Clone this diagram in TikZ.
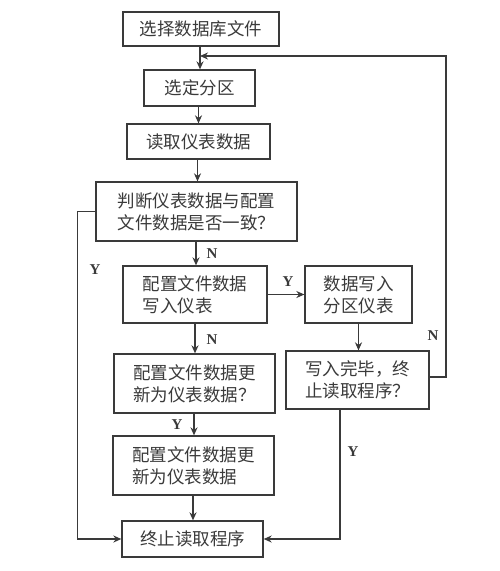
\documentclass[tikz,border=0pt]{standalone}
\usepackage{fontspec}
\newfontfamily\cjk{Noto Sans CJK SC}
\newfontfamily\latf{Liberation Serif}
\usetikzlibrary{arrows.meta}
\definecolor{ink}{HTML}{3A3A3A}
\begin{document}
\begin{tikzpicture}[x=1pt,y=-1pt,
  box/.style={draw=ink,line width=1.3pt,inner sep=0pt,align=left,text=ink,
     font=\cjk\fontsize{17.5}{22}\selectfont},
  arr/.style={draw=ink,line width=1.3pt,-{Stealth[length=8pt,width=7pt]}},
  lbl/.style={text=ink,font=\latf\bfseries\fontsize{15}{15}\selectfont,inner sep=0pt}]
\useasboundingbox (0,0) rectangle (500,571);
\node[box,minimum width=156pt,minimum height=34pt] (b1) at (201,29) {选择数据库文件};
\node[box,minimum width=111pt,minimum height=36pt] (b2) at (199.5,88) {选定分区};
\node[box,minimum width=143pt,minimum height=35pt] (b3) at (198.5,141.5) {读取仪表数据};
\node[box,minimum width=201pt,minimum height=59pt] (b4) at (196.5,211.5) {判断仪表数据与配置\\文件数据是否一致？};
\node[box,minimum width=144pt,minimum height=57pt] (b5) at (195,294.5) {配置文件数据\\写入仪表};
\node[box,minimum width=107pt,minimum height=57pt] (b6) at (358.5,294.5) {数据写入\\分区仪表};
\node[box,minimum width=161pt,minimum height=59pt] (b7) at (194.5,383.5) {配置文件数据更\\新为仪表数据？};
\node[box,minimum width=161pt,minimum height=59pt] (b8) at (193.5,465.5) {配置文件数据更\\新为仪表数据};
\node[box,minimum width=141pt,minimum height=36pt] (b9) at (192.5,539) {终止读取程序};
\node[box,minimum width=143pt,minimum height=58pt] (b10) at (357.5,380) {写入完毕，终\\止读取程序？};
\coordinate (fb) at (200,56);
\coordinate (nr) at (446,377);
% main flow
\draw[arr] (b1.south -| fb) -- (b2.north -| fb);
\draw[arr] (b2.south -| 198.5,0) -- (b3.north -| 198.5,0);
\draw[arr] (b3.south -| 197.5,0) -- (b4.north -| 197.5,0);
\draw[arr] (b4.south -| 196,0) -- (b5.north -| 196,0);
\draw[arr] (b5.south -| 195,0) -- (b7.north -| 195,0);
\draw[arr] (b7.south -| 194,0) -- (b8.north -| 194,0);
\draw[arr] (b8.south -| 193,0) -- (b9.north -| 193,0);
\draw[arr] (b5.east) -- (b6.west);
\draw[arr] (b6.south) -- (b10.north -| b6.south);
% loops
\draw[arr] (b10.east |- nr) -- (nr) |- (fb);
\draw[arr] (b4.west) -- ++(-18,0) |- (b9.west);
\draw[arr] ([xshift=-17.5pt]b10.south) |- (b9.east);
% labels
\node[lbl] (lN1) at (212,254) {N};
\node[lbl] (lY1) at (95,270) {Y};
\node[lbl] (lY2) at (288,282) {Y};
\node[lbl] (lN2) at (212,340) {N};
\node[lbl] (lN3) at (433,336) {N};
\node[lbl] (lY3) at (177,425) {Y};
\node[lbl] (lY4) at (353,452) {Y};
\end{tikzpicture}
\end{document}
